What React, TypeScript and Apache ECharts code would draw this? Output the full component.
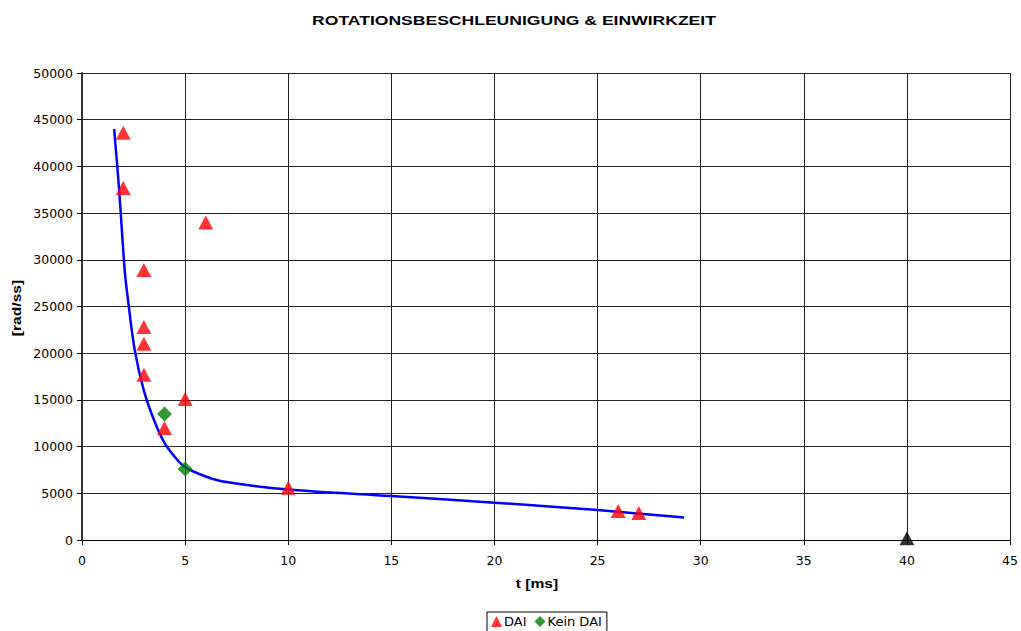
import React, { useEffect, useRef } from "react";
import * as echarts from "echarts";

const title = "ROTATIONSBESCHLEUNIGUNG & EINWIRKZEIT";
const xName = "t [ms]";
const yName = "[rad/ss]";

const daiT = [2, 2, 6, 3, 3, 3, 3, 5, 4, 10, 26, 27];
const daiA = [43600, 37700, 34000, 28900, 22800, 21000, 17700, 15100, 12000, 5600, 3100, 2900];

const keinT = [4, 5];
const keinA = [13500, 7600];

const otherT = [40];
const otherA = [200];

const fitT = [1.56, 1.8, 2.07, 2.23, 2.56, 3.0, 3.5, 4.0, 4.5, 5.0, 6.0, 7.0, 10.0, 15.0, 20.0, 25.0, 29.2];
const fitA = [44000, 37500, 28900, 25700, 20300, 16000, 12800, 10400, 8900, 7800, 6800, 6200, 5400, 4700, 4000, 3200, 2400];

const zip = (a: number[], b: number[]) => a.map((v, i) => [v, b[i]]);

const FONT = "Liberation Sans, Arial, sans-serif";
const WIDE = "DejaVu Sans, sans-serif";

export default function App() {
  const ref = useRef<HTMLDivElement>(null);
  useEffect(() => {
    if (!ref.current) return;
    const chart = echarts.init(ref.current, undefined, { renderer: "svg" });
    chart.setOption({
      animation: false,
      backgroundColor: "#fff",
      grid: { left: 82, right: 6, top: 73, bottom: 91 },
      xAxis: {
        type: "value",
        min: 0,
        max: 45,
        interval: 5,
        axisLine: { show: true, lineStyle: { color: "#000", width: 1 } },
        axisTick: { show: true, inside: false, length: 5, lineStyle: { color: "#000" } },
        axisLabel: { margin: 14, fontSize: 12.5, fontFamily: WIDE, color: "#000" },
        splitLine: { show: true, lineStyle: { color: "#222", width: 1 } },
      },
      yAxis: {
        type: "value",
        min: 0,
        max: 50000,
        interval: 5000,
        axisLine: { show: true, lineStyle: { color: "#333", width: 2 } },
        axisTick: { show: true, inside: false, length: 5, lineStyle: { color: "#000" } },
        axisLabel: {
          margin: 9,
          fontSize: 12.5,
          fontFamily: WIDE,
          color: "#000",
          formatter: (v: number) => String(v),
        },
        splitLine: { show: true, lineStyle: { color: "#222", width: 1 } },
      },
      legend: {
        data: ["DAI", "Kein DAI"],
        left: 487,
        top: 612,
        orient: "horizontal",
        borderColor: "#000",
        borderWidth: 1,
        borderRadius: 0,
        padding: [3, 5, 6, 4],
        itemGap: 8,
        itemWidth: 11,
        itemHeight: 11,
        textStyle: { fontSize: 13, fontFamily: WIDE, color: "#000", padding: [0, 0, 0, -3] },
      },
      graphic: [
        {
          type: "text",
          x: 514,
          y: 20,
          scaleX: 1.35,
          style: { text: title, font: `bold 13px ${FONT}`, fill: "#000", align: "center", verticalAlign: "middle" },
        },
        {
          type: "text",
          x: 537,
          y: 584,
          scaleX: 1.3,
          style: { text: xName, font: `bold 12px ${FONT}`, fill: "#000", align: "center", verticalAlign: "middle" },
        },
        {
          type: "text",
          x: 17,
          y: 308,
          rotation: Math.PI / 2,
          scaleX: 1.3,
          style: { text: yName, font: `bold 12px ${FONT}`, fill: "#000", align: "center", verticalAlign: "middle" },
        },
      ],
      series: [
        {
          name: "Fit",
          type: "line",
          data: zip(fitT, fitA),
          smooth: 0.35,
          showSymbol: false,
          lineStyle: { color: "#0000FF", width: 2.5 },
          z: 3,
        },
        {
          name: "DAI",
          type: "scatter",
          data: zip(daiT, daiA),
          symbol: "triangle",
          symbolSize: [15, 14],
          itemStyle: { color: "#FF0000" },
          z: 4,
        },
        {
          name: "Kein DAI",
          type: "scatter",
          data: zip(keinT, keinA),
          symbol: "diamond",
          symbolSize: [15, 15],
          itemStyle: { color: "#008000" },
          z: 4,
        },
        {
          name: "Other",
          type: "scatter",
          data: zip(otherT, otherA),
          symbol: "triangle",
          symbolSize: [15, 14],
          itemStyle: { color: "#000000" },
          z: 4,
        },
      ],
    });
    return () => chart.dispose();
  }, []);
  return (
    <div
      ref={ref}
      style={{ position: "absolute", left: 0, top: 0, width: 1021, height: 631 }}
    />
  );
}
